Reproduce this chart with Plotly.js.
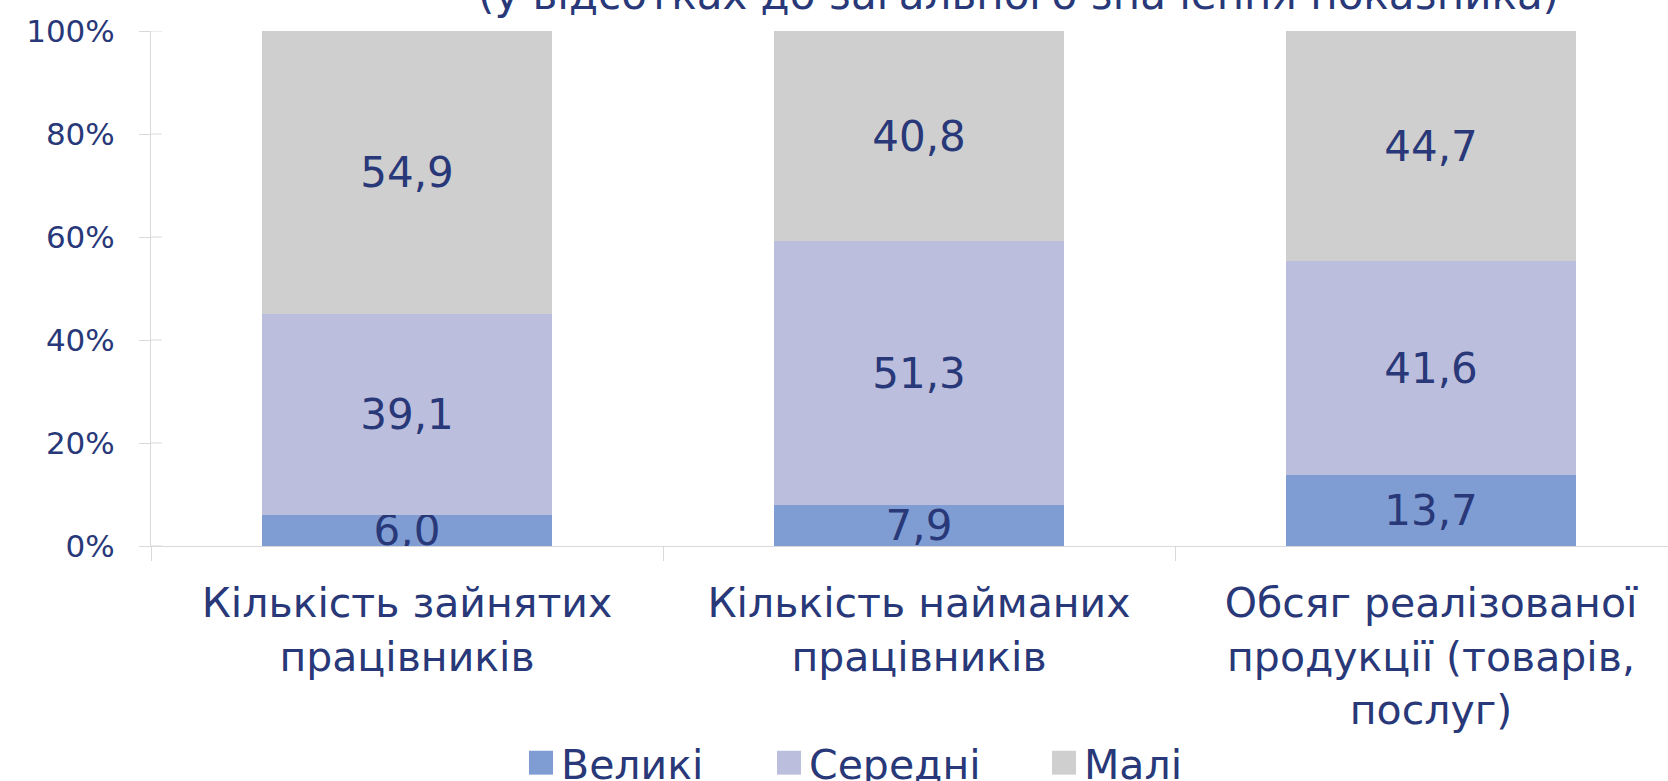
<!DOCTYPE html>
<html><head><meta charset="utf-8">
<script src="https://cdn.plot.ly/plotly-3.0.1.min.js"></script>
<style>html,body{margin:0;padding:0;overflow:hidden;background:#fff;} #chart{width:1700px;height:781px;}</style>
</head><body><div id="chart"></div>
<script>
const categories = ['Кількість зайнятих<br>працівників', 'Кількість найманих<br>працівників', 'Обсяг реалізованої<br>продукції (товарів,<br>послуг)'];
const seriesNames = ['Великі', 'Середні', 'Малі'];
const largeValues = [6.0, 7.9, 13.7];
const mediumValues = [39.1, 51.3, 41.6];
const smallValues = [54.9, 40.8, 44.7];
const yTickValues = [0, 20, 40, 60, 80, 100];
const yTickLabels = ['0%', '20%', '40%', '60%', '80%', '100%'];
const titleText = '(у відсотках до загального значення показника)';

const NAVY = '#283878';
const FONT = 'DejaVu Sans, Verdana, sans-serif';
const GRID = '#d9d9d9';
const colors = ['#7f9dd2', '#bcbedd', '#cfcfcf'];
const seriesValues = [largeValues, mediumValues, smallValues];
const legendIds = ['legend', 'legend2', 'legend3'];

const W = 1700, H = 781;
const margin = {l: 151, r: 13, t: 31, b: 235};
const plotW = W - margin.l - margin.r;

const traces = seriesValues.map((vals, i) => ({
  type: 'bar',
  name: seriesNames[i],
  x: categories,
  y: vals,
  marker: {color: colors[i], line: {width: 0}},
  texttemplate: '%{y:.1f}',
  textposition: 'inside',
  insidetextanchor: 'middle',
  constraintext: 'none',
  textfont: {family: FONT, size: 42, color: NAVY},
  hoverinfo: 'none',
  legend: legendIds[i]
}));

function legendAt(px) {
  return {
    xref: 'container', yref: 'container',
    x: px / W, y: 1 - 763 / H, xanchor: 'left', yanchor: 'middle',
    orientation: 'h', itemwidth: 30,
    font: {family: FONT, size: 41, color: NAVY},
    bgcolor: 'rgba(0,0,0,0)', borderwidth: 0
  };
}

const shapes = yTickValues.map(v => ({
  type: 'line', xref: 'paper', yref: 'y',
  x0: 0, x1: 11 / plotW, y0: v, y1: v,
  line: {color: GRID, width: 1}
}));

const layout = {
  width: W, height: H,
  margin: margin,
  paper_bgcolor: '#fff', plot_bgcolor: '#fff',
  barmode: 'stack',
  bargap: 0.432,
  separators: ', ',
  font: {family: FONT, color: NAVY},
  showlegend: true,
  legend: legendAt(521),
  legend2: legendAt(769),
  legend3: legendAt(1044),
  xaxis: {
    type: 'category',
    showgrid: false, zeroline: false,
    showline: true, linecolor: GRID, linewidth: 1,
    ticks: 'outside', tickson: 'boundaries', ticklen: 14, tickcolor: GRID, tickwidth: 1,
    tickfont: {family: FONT, size: 41, color: NAVY},
    ticklabelstandoff: 21,
    tickangle: 0,
    automargin: false
  },
  yaxis: {
    range: [0, 100],
    tickmode: 'array',
    tickvals: yTickValues,
    ticktext: yTickLabels,
    showgrid: false, zeroline: false,
    showline: true, linecolor: GRID, linewidth: 1,
    ticks: 'outside', ticklen: 11, tickcolor: GRID, tickwidth: 1,
    tickfont: {family: FONT, size: 31, color: NAVY},
    ticklabelstandoff: 18,
    automargin: false
  },
  shapes: shapes,
  annotations: [{
    text: titleText,
    xref: 'paper', yref: 'paper',
    x: (1018 - margin.l) / plotW, y: 1,
    xanchor: 'center', yanchor: 'bottom', yshift: 10,
    showarrow: false,
    font: {family: FONT, size: 42, color: NAVY}
  }]
};

Plotly.newPlot('chart', traces, layout, {displayModeBar: false, staticPlot: true}).then(() => {
  document.querySelectorAll('.legendpoints path').forEach(p => {
    p.setAttribute('d', 'M12,12H-12V-12H12Z');
  });
});
</script>
</body></html>
